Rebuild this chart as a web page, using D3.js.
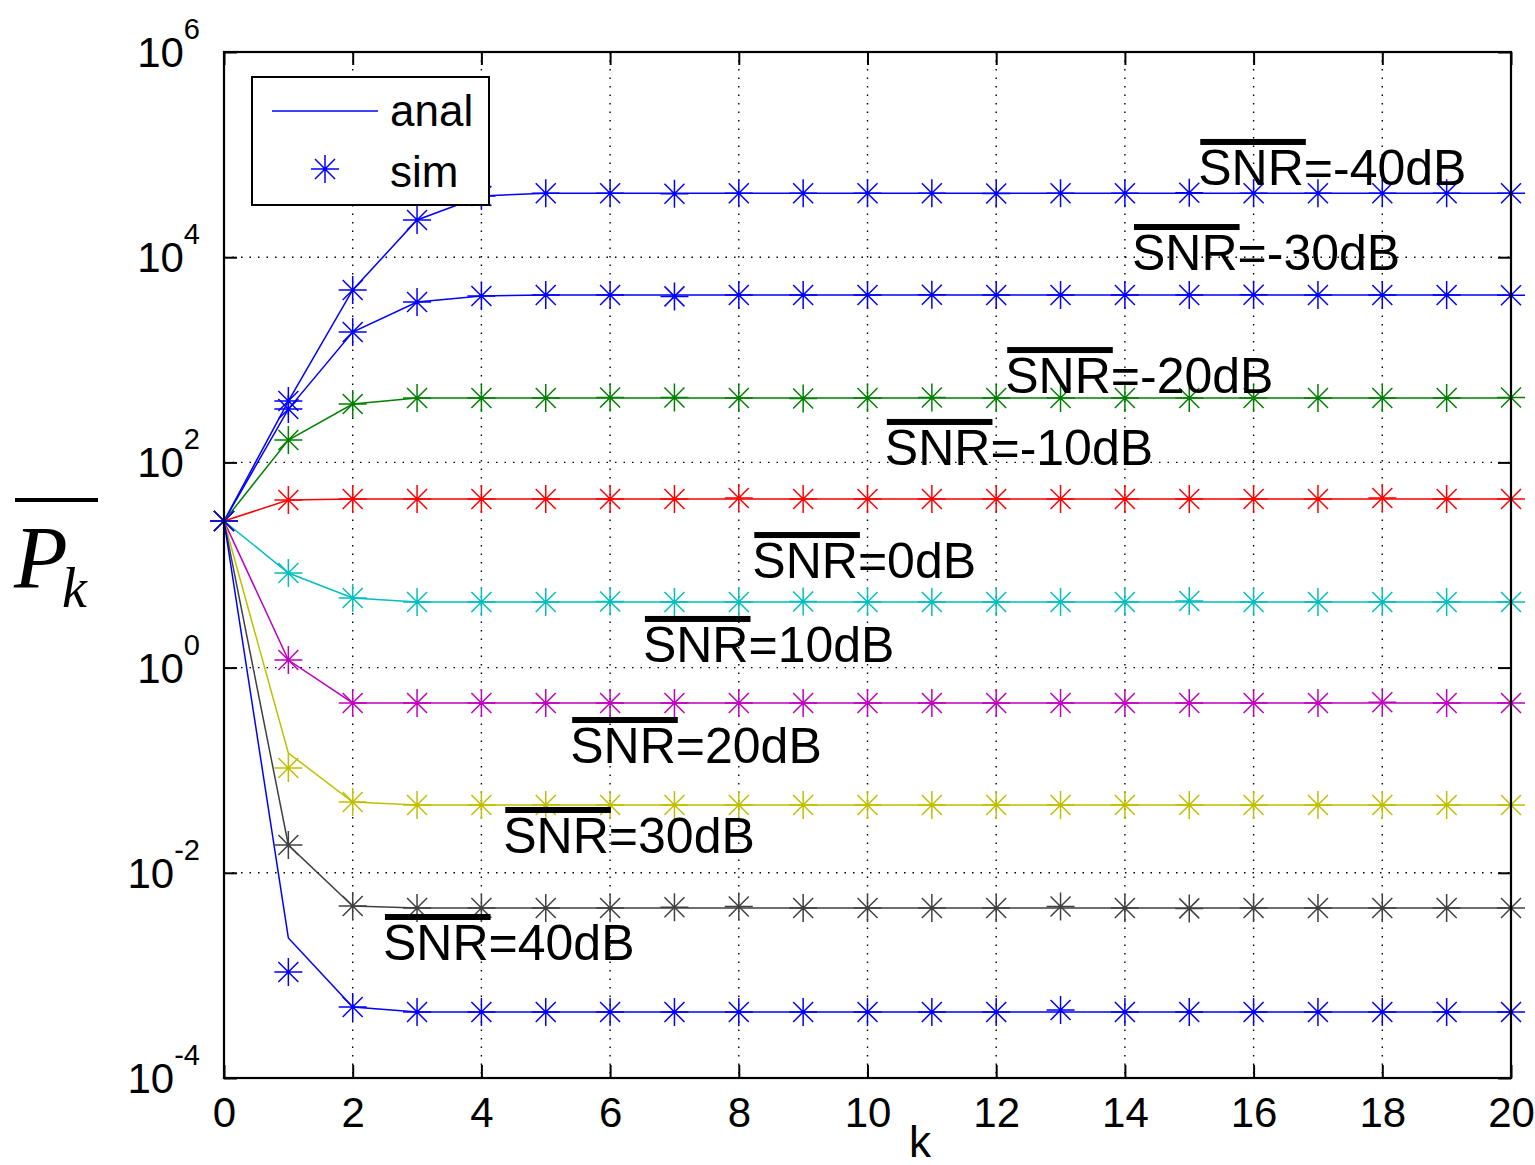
<!DOCTYPE html>
<html><head><meta charset="utf-8">
<script src="https://cdn.jsdelivr.net/npm/d3@7"></script>
<style>
body{margin:0;background:#fff}
svg{display:block}
text{font-family:"Liberation Sans",Arial,Helvetica,sans-serif;fill:#000}
text.serif{font-family:"Liberation Serif","Times New Roman",serif;font-style:italic}
</style>
</head><body>
<svg id="chart" width="1535" height="1165"></svg>
<script>
// ---------- data ----------
const kValues = [0,1,2,3,4,5,6,7,8,9,10,11,12,13,14,15,16,17,18,19,20];
const xTicks = [0,2,4,6,8,10,12,14,16,18,20];
const yTickExps = [-4,-2,0,2,4,6];
const snrLabels = ["-40dB","-30dB","-20dB","-10dB","0dB","10dB","20dB","30dB","40dB"];
const seriesColors = ["#0000ff","#0000ff","#008000","#ff0000","#00bfbf","#bf00bf","#bfbf00","#404040","#0000ff"];

const analM40 = [26.8,396,4790,23060,39500,42000,42000,42000,42000,42000,42000,42000,42000,42000,42000,42000,42000,42000,42000,42000,42000];
const simM40  = [26.8,396,4790,23060,39500,42000,42000,41500,42000,42000,42000,42000,41800,42000,42000,42500,42000,42000,42000,42000,42000];
const analM30 = [26.8,331,1866,3660,4190,4280,4280,4280,4280,4280,4280,4280,4280,4280,4280,4280,4280,4280,4280,4280,4280];
const simM30  = [26.8,331,1866,3660,4190,4280,4280,4150,4280,4280,4280,4300,4280,4280,4280,4280,4300,4280,4280,4280,4250];
const analM20 = [26.8,165,371,424,424,424,424,424,424,424,424,424,424,424,424,424,424,424,424,424,424];
const simM20  = [26.8,165,371,424,424,424,430,430,424,420,424,430,424,424,424,424,424,424,424,424,430];
const analM10 = [26.8,43,44,44,44,44,44,44,44,44,44,44,44,44,44,44,44,44,44,44,44];
const simM10  = [26.8,43,44,44,44,44,44,44,45,44,44,44,44,44,44,44,44,44,45,44,44];
const anal0   = [26.8,8.36,4.77,4.36,4.36,4.36,4.36,4.36,4.36,4.36,4.36,4.36,4.36,4.36,4.36,4.36,4.36,4.36,4.36,4.36,4.36];
const sim0    = [26.8,8.36,4.77,4.36,4.36,4.36,4.40,4.36,4.36,4.40,4.36,4.36,4.36,4.36,4.36,4.45,4.36,4.36,4.36,4.36,4.36];
const anal10  = [26.8,1.186,0.452,0.452,0.452,0.452,0.452,0.452,0.452,0.452,0.452,0.452,0.452,0.452,0.452,0.452,0.452,0.452,0.452,0.452,0.452];
const sim10   = [26.8,1.186,0.452,0.452,0.452,0.452,0.452,0.452,0.452,0.452,0.452,0.452,0.452,0.452,0.452,0.452,0.452,0.452,0.460,0.452,0.452];
const anal20  = [26.8,0.147,0.049,0.0458,0.0458,0.0458,0.0458,0.0458,0.0458,0.0458,0.0458,0.0458,0.0458,0.0458,0.0458,0.0458,0.0458,0.0458,0.0458,0.0458,0.0458];
const sim20   = [26.8,0.105,0.049,0.0458,0.0458,0.0458,0.0458,0.0458,0.0458,0.0458,0.0458,0.0458,0.0458,0.0458,0.0458,0.0458,0.0458,0.0458,0.0458,0.0458,0.0458];
const anal30  = [26.8,0.01866,0.00474,0.00454,0.00454,0.00454,0.00454,0.00454,0.00454,0.00454,0.00454,0.00454,0.00454,0.00454,0.00454,0.00454,0.00454,0.00454,0.00454,0.00454,0.00454];
const sim30   = [26.8,0.01866,0.00474,0.00454,0.00454,0.00454,0.00454,0.00462,0.00470,0.00454,0.00454,0.00454,0.00454,0.00470,0.00454,0.00450,0.00454,0.00454,0.00454,0.00454,0.00454];
const anal40  = [26.8,0.00232,0.000492,0.00044,0.00044,0.00044,0.00044,0.00044,0.00044,0.00044,0.00044,0.00044,0.00044,0.00044,0.00044,0.00044,0.00044,0.00044,0.00044,0.00044,0.00044];
const sim40   = [26.8,0.00108,0.000492,0.00044,0.00044,0.00044,0.00044,0.00044,0.00044,0.00044,0.00044,0.00044,0.00044,0.00046,0.00044,0.00044,0.00044,0.00044,0.00044,0.00044,0.00044];

// annotation anchor positions in data coordinates (k, log10 value of baseline)
const annoK   = [15.14,14.11,12.14,10.27,8.21,6.51,5.38,4.34,2.47];
const annoExp = [4.704,3.875,2.676,1.975,0.873,0.055,-0.930,-1.807,-2.850];

const analSeries = [analM40,analM30,analM20,analM10,anal0,anal10,anal20,anal30,anal40];
const simSeries  = [simM40,simM30,simM20,simM10,sim0,sim10,sim20,sim30,sim40];

// ---------- layout ----------
const L = 224, R = 1511, T = 52, B = 1078;
const svg = d3.select("#chart");
const x = d3.scaleLinear().domain([0,20]).range([L,R]);
const y = d3.scaleLog().domain([1e-4,1e6]).range([B,T]);
const yTicks = yTickExps.map(e => Math.pow(10,e));

// grid
const grid = svg.append("g").attr("stroke","#000").attr("stroke-width",1.4).attr("stroke-dasharray","1.5,7");
grid.selectAll("line.gx").data(xTicks).join("line")
  .attr("x1",d=>x(d)).attr("x2",d=>x(d)).attr("y1",T).attr("y2",B);
grid.selectAll("line.gy").data(yTicks).join("line")
  .attr("x1",L).attr("x2",R).attr("y1",d=>y(d)).attr("y2",d=>y(d));

// lines
const line = d3.line().x((d,i)=>x(kValues[i])).y(d=>y(d));
svg.append("g").selectAll("path").data(analSeries).join("path")
  .attr("d",line).attr("fill","none")
  .attr("stroke",(d,i)=>seriesColors[i]).attr("stroke-width",1.5);

// asterisk markers
const r = 14, dg = 10;
const star = `M${-r},0L${r},0M0,${-r}L0,${r}M${-dg},${-dg}L${dg},${dg}M${-dg},${dg}L${dg},${-dg}`;
simSeries.forEach((s,si)=>{
  svg.append("g").selectAll("path").data(s).join("path")
    .attr("d",star)
    .attr("transform",(d,i)=>`translate(${x(kValues[i])},${y(d)})`)
    .attr("fill","none").attr("stroke",seriesColors[si]).attr("stroke-width",1.5);
});

// axes (ticks inside, all four sides)
const tl = 13;
const gB = svg.append("g").attr("transform",`translate(0,${B})`)
  .call(d3.axisBottom(x).tickValues(xTicks).tickSize(-tl).tickPadding(19).tickFormat(d3.format("d")));
const gT = svg.append("g").attr("transform",`translate(0,${T})`)
  .call(d3.axisTop(x).tickValues(xTicks).tickSize(-tl).tickFormat(""));
const gL = svg.append("g").attr("transform",`translate(${L},0)`)
  .call(d3.axisLeft(y).tickValues(yTicks).tickSize(-tl).tickFormat(""));
const gR = svg.append("g").attr("transform",`translate(${R},0)`)
  .call(d3.axisRight(y).tickValues(yTicks).tickSize(-tl).tickFormat(""));
[gB,gT,gL,gR].forEach(g=>{
  g.select(".domain").remove();
  g.selectAll(".tick line").attr("stroke","#000").attr("stroke-width",2);
});
gB.selectAll(".tick text").attr("font-size",42).attr("fill","#000");

// frame
svg.append("rect").attr("x",L).attr("y",T).attr("width",R-L).attr("height",B-T)
  .attr("fill","none").attr("stroke","#000").attr("stroke-width",2.2);

// y tick labels 10^n
const yl = svg.append("g").selectAll("text").data(yTickExps).join("text")
  .attr("x",200).attr("y",d=>y(Math.pow(10,d))+15).attr("text-anchor","end").attr("font-size",42);
yl.append("tspan").text("10");
yl.append("tspan").attr("dy",-28).attr("font-size",29).text(d=>d);

// x label
svg.append("text").attr("x",920).attr("y",1157).attr("text-anchor","middle").attr("font-size",44).text("k");

// y label: overline P subscript k
svg.append("line").attr("x1",15).attr("x2",98).attr("y1",500).attr("y2",500).attr("stroke","#000").attr("stroke-width",4);
svg.append("text").attr("class","serif").attr("x",14).attr("y",587).attr("font-size",88).text("P");
svg.append("text").attr("class","serif").attr("x",62).attr("y",607).attr("font-size",56).text("k");

// annotations
snrLabels.forEach((lab,i)=>{
  const tx = x(annoK[i]), ty = y(Math.pow(10,annoExp[i]));
  const t = svg.append("text").attr("x",tx).attr("y",ty).attr("font-size",50);
  const s = t.append("tspan").text("SNR");
  t.append("tspan").text("=" + lab);
  const w = s.node().getComputedTextLength();
  svg.append("rect").attr("x",tx+2).attr("y",ty-46).attr("width",w).attr("height",6).attr("fill","#000");
});

// legend
const lg = svg.append("g");
lg.append("rect").attr("x",252).attr("y",77).attr("width",237).attr("height",128)
  .attr("fill","#fff").attr("stroke","#000").attr("stroke-width",2);
lg.append("line").attr("x1",272).attr("x2",378).attr("y1",111).attr("y2",111)
  .attr("stroke",seriesColors[0]).attr("stroke-width",1.5);
lg.append("text").attr("x",390).attr("y",126).attr("font-size",44).text("anal");
lg.append("path").attr("d",star).attr("transform","translate(325,169)")
  .attr("fill","none").attr("stroke",seriesColors[0]).attr("stroke-width",1.5);
lg.append("text").attr("x",390).attr("y",187).attr("font-size",44).text("sim");
</script>
</body></html>
